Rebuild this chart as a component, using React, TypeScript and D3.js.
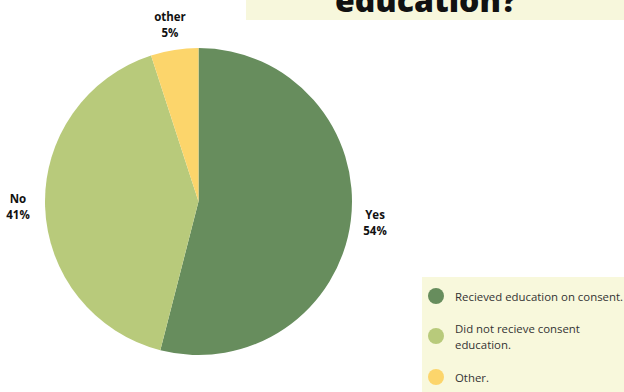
import React from "react";
import * as d3 from "d3";

const categories = ["Yes", "No", "other"];
const values = [54, 41, 5];
const pctLabels = ["54%", "41%", "5%"];
const legendLabels = [
  ["Recieved education on consent."],
  ["Did not recieve consent", "education."],
  ["Other."],
];
const colors = ["#678d5d", "#b8ca7b", "#fcd56b"];

export default function App() {
  const W = 624, H = 392;
  const cx = 198.5, cy = 201.5, r = 153.5;
  const pie = d3.pie<number>().sort(null).value((d) => d);
  const arcs = pie(values);
  const arc = d3.arc<d3.PieArcDatum<number>>().innerRadius(0).outerRadius(r);
  const labelPos = [
    { x: 375, y: 219, anchor: "middle" },
    { x: 18, y: 203, anchor: "middle" },
    { x: 170, y: 21, anchor: "middle" },
  ];
  const legendY = [296, 336, 377];
  return (
    <svg width={W} height={H} style={{ position: "absolute", left: 0, top: 0, background: "#fff" }}>
      <rect x={246} y={-10} width={380} height={30} fill="#f7f7dc" />
      <text x={426} y={12} textAnchor="middle" fontFamily="'Open Sans', sans-serif" fontWeight={800} fontSize={32} fill="#111">education?</text>
      <g transform={`translate(${cx},${cy})`}>
        {arcs.map((a, i) => (
          <path key={i} d={arc(a) || ""} fill={colors[i]} />
        ))}
      </g>
      {labelPos.map((p, i) => (
        <text key={i} x={p.x} y={p.y} textAnchor={p.anchor as any} fontFamily="'Open Sans', sans-serif" fontWeight={700} fontSize={11.5} fill="#111">
          <tspan x={p.x} dy={0}>{categories[i]}</tspan>
          <tspan x={p.x} dy={16}>{pctLabels[i]}</tspan>
        </text>
      ))}
      <rect x={422} y={277} width={210} height={120} fill="#f8f8dc" />
      {legendLabels.map((lines, i) => (
        <g key={i}>
          <circle cx={436} cy={legendY[i]} r={8} fill={colors[i]} />
          <text x={455} y={legendY[i] + (lines.length > 1 ? -8 : 0)} dominantBaseline="central" fontFamily="'Open Sans', sans-serif" fontSize={11.4} fill="#333">
            {lines.map((l, j) => (
              <tspan key={j} x={455} dy={j === 0 ? 0 : 16}>{l}</tspan>
            ))}
          </text>
        </g>
      ))}
    </svg>
  );
}
